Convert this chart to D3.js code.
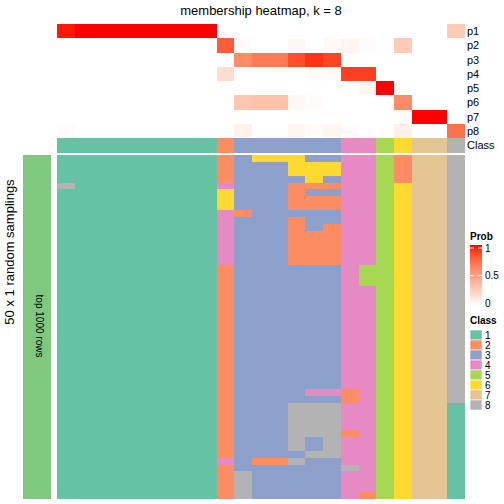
<!DOCTYPE html>
<html><head><meta charset="utf-8">
<script src="https://cdn.jsdelivr.net/npm/d3@7"></script>
<style>body{margin:0;background:#fff} svg{display:block;font-family:"Liberation Sans",Arial,sans-serif}</style>
</head><body><svg id="c" width="504" height="504"></svg>
<script>
// ---------------- data ----------------
const classes = ["1","2","3","4","5","6","7","8"];
const classColors = ["#66C2A5","#FC8D62","#8DA0CB","#E78AC3","#A6D854","#FFD92F","#E5C494","#B3B3B3"];
const probNames = ["p1","p2","p3","p4","p5","p6","p7","p8"];
// membership probability per sample (23 samples)
const p1 = [0.98,1,1,1,1,1,1,1,1, 0, 0,0,0,0,0,0, 0,0, 0, 0, 0,0, 0.28];
const p2 = [0,0,0,0,0,0,0,0,0, 0.8, 0.02,0,0,0.04,0,0.03, 0.05,0.02, 0, 0.28, 0,0, 0];
const p3 = [0,0,0,0,0,0,0,0,0, 0, 0.6,0.67,0.67,0.85,0.93,0.88, 0,0, 0, 0, 0,0, 0];
const p4 = [0,0,0,0,0,0,0,0,0, 0.18, 0,0,0,0,0.02,0.02, 0.9,0.9, 0, 0, 0,0, 0];
const p5 = [0,0,0,0,0,0,0,0,0, 0, 0,0,0,0,0,0, 0,0.05, 1, 0, 0,0, 0];
const p6 = [0,0,0,0,0,0,0,0,0, 0, 0.3,0.33,0.33,0.04,0.02,0, 0,0, 0, 0.6, 0,0, 0];
const p7 = [0,0,0,0,0,0,0,0,0, 0, 0,0,0,0,0,0, 0,0, 0, 0, 1,1, 0];
const p8 = [0.02,0,0,0,0,0,0,0,0, 0, 0.07,0,0,0.05,0.02,0.05, 0.02,0, 0, 0.08, 0,0, 0.72];
const consensusClass = [1,1,1,1,1,1,1,1,1, 2, 3,3,3,3,3,3, 4,4, 5, 6, 7,7, 8];
// class assigned in each of 50 random samplings (rows), per sample (columns)
const samplings = [
 "111111111 2 366633 44 5 2 77 8",
 "111111111 2 333666 44 5 2 77 8",
 "111111111 2 333666 44 5 2 77 8",
 "111111111 2 333363 44 5 2 77 8",
 "811111111 4 333222 44 5 6 77 8",
 "111111111 6 333233 44 5 6 77 8",
 "111111111 6 333222 44 5 6 77 8",
 "111111111 6 333222 44 5 6 77 8",
 "111111111 4 233333 44 5 6 77 8",
 "111111111 4 333233 44 5 6 77 8",
 "111111111 4 333232 44 5 6 77 8",
 "111111111 4 333222 44 5 6 77 8",
 "111111111 4 333222 44 5 6 77 8",
 "111111111 4 333222 44 5 6 77 8",
 "111111111 4 333222 44 5 6 77 8",
 "111111111 4 333222 44 5 6 77 8",
 "111111111 2 333333 45 5 6 77 8",
 "111111111 2 333333 45 5 6 77 8",
 "111111111 2 333333 45 5 6 77 8",
 "111111111 2 333333 44 5 6 77 8",
 "111111111 2 333333 44 5 6 77 8",
 "111111111 2 333333 44 5 6 77 8",
 "111111111 2 333333 44 5 6 77 8",
 "111111111 2 333333 44 5 6 77 8",
 "111111111 2 333333 44 5 6 77 8",
 "111111111 2 333333 44 5 6 77 8",
 "111111111 2 333333 44 5 6 77 8",
 "111111111 2 333333 44 5 6 77 8",
 "111111111 2 333333 44 5 6 77 8",
 "111111111 2 333333 44 5 6 77 8",
 "111111111 2 333333 44 5 6 77 8",
 "111111111 2 333333 44 5 6 77 8",
 "111111111 2 333333 44 5 6 77 8",
 "111111111 2 333333 44 5 6 77 8",
 "111111111 2 333344 24 5 6 77 8",
 "111111111 2 333333 24 5 6 77 8",
 "111111111 2 333888 44 5 6 77 1",
 "111111111 2 333888 44 5 6 77 1",
 "111111111 2 333888 44 5 6 77 1",
 "111111111 2 333888 44 5 6 77 1",
 "111111111 2 333888 24 5 6 77 1",
 "111111111 2 333838 44 5 6 77 1",
 "111111111 2 333838 44 5 6 77 1",
 "111111111 2 333388 44 5 6 77 1",
 "111111111 4 322833 44 5 6 77 1",
 "111111111 2 333333 84 5 6 77 1",
 "111111111 2 833333 44 5 6 77 1",
 "111111111 2 833333 44 5 6 77 1",
 "111111111 2 833333 44 5 6 77 1",
 "111111111 2 833333 42 5 6 77 1"
];
const legendTicks = [0, 0.5, 1];

// ---------------- drawing ----------------
const probs = [p1,p2,p3,p4,p5,p6,p7,p8];
const matrix = samplings.map(s => s.replace(/ /g,"").split("").map(Number));
const nCol = consensusClass.length;
const svg = d3.select("#c");

const x = d3.scaleBand().domain(d3.range(nCol)).range([57,465]);
const yTop = d3.scaleBand().domain(probNames).range([24,138]);
const yMain = d3.scaleBand().domain(d3.range(matrix.length)).range([155,499]);
const classColor = d3.scaleOrdinal().domain(classes.map(Number)).range(classColors);
const probColor = d3.scaleLinear().domain([0,1]).range(["#ffffff","#ff0000"]).interpolate(d3.interpolateLab);

// title
svg.append("text").attr("x",261).attr("y",15).attr("text-anchor","middle")
  .attr("font-size",13).text("membership heatmap, k = 8");

// top probability annotation
const gTop = svg.append("g").attr("shape-rendering","crispEdges");
probs.forEach((arr,i)=>{
  gTop.selectAll(null).data(arr).enter().append("rect")
    .attr("x",(d,j)=>x(j)).attr("y",yTop(probNames[i]))
    .attr("width",x.bandwidth()+0.3).attr("height",yTop.bandwidth()+0.3)
    .attr("fill",d=>probColor(d));
});
gTop.selectAll(null).data(consensusClass).enter().append("rect")
  .attr("x",(d,j)=>x(j)).attr("y",138).attr("width",x.bandwidth()+0.3).attr("height",15)
  .attr("fill",d=>classColor(d));
svg.selectAll(null).data(probNames).enter().append("text")
  .attr("x",467).attr("y",d=>yTop(d)+yTop.bandwidth()/2).attr("dy","0.36em")
  .attr("font-size",11).text(d=>d);
svg.append("text").attr("x",467).attr("y",145.5).attr("dy","0.36em").attr("font-size",11).text("Class");

// main heatmap
const gMain = svg.append("g").attr("shape-rendering","crispEdges");
matrix.forEach((row,r)=>{
  gMain.selectAll(null).data(row).enter().append("rect")
    .attr("x",(d,j)=>x(j)).attr("y",yMain(r))
    .attr("width",x.bandwidth()+0.3).attr("height",yMain.bandwidth()+0.3)
    .attr("fill",d=>classColor(d));
});

// left bar and labels
svg.append("rect").attr("x",23).attr("y",155).attr("width",28).attr("height",344).attr("fill","#7FC97F");
svg.append("text").attr("transform","translate(36,326) rotate(90)").attr("text-anchor","middle")
  .attr("font-size",10).text("top 1000 rows");
svg.append("text").attr("transform","translate(14,252) rotate(-90)").attr("text-anchor","middle")
  .attr("font-size",13).text("50 x 1 random samplings");

// Prob legend
svg.append("text").attr("x",470).attr("y",239.5).attr("font-size",10).attr("font-weight","bold").text("Prob");
const grad = svg.append("defs").append("linearGradient").attr("id","pg")
  .attr("x1",0).attr("y1",1).attr("x2",0).attr("y2",0);
d3.range(0,1.001,0.1).forEach(t=>grad.append("stop").attr("offset",t).attr("stop-color",probColor(t)));
const yLeg = d3.scaleLinear().domain([0,1]).range([303,248]);
svg.append("rect").attr("x",470).attr("y",245).attr("width",12).attr("height",61).attr("fill","url(#pg)");
legendTicks.forEach(t=>{
  svg.append("line").attr("x1",470).attr("x2",474).attr("y1",yLeg(t)).attr("y2",yLeg(t)).attr("stroke","#fff").attr("stroke-width",1);
  svg.append("line").attr("x1",478).attr("x2",482).attr("y1",yLeg(t)).attr("y2",yLeg(t)).attr("stroke","#fff").attr("stroke-width",1);
  svg.append("text").attr("x",485).attr("y",yLeg(t)).attr("dy","0.36em").attr("font-size",10).text(String(t));
});

// Class legend
svg.append("text").attr("x",470).attr("y",323.5).attr("font-size",10).attr("font-weight","bold").text("Class");
const yCls = d3.scaleBand().domain(classes).range([330,410]);
svg.selectAll(null).data(classes).enter().append("rect")
  .attr("x",470).attr("y",d=>yCls(d)).attr("width",12).attr("height",yCls.bandwidth())
  .attr("fill",(d,i)=>classColors[i]).attr("stroke","#fff").attr("stroke-width",0.6);
svg.selectAll(null).data(classes).enter().append("text")
  .attr("x",485).attr("y",d=>yCls(d)+yCls.bandwidth()/2).attr("dy","0.36em").attr("font-size",10).text(d=>d);
</script></body></html>
